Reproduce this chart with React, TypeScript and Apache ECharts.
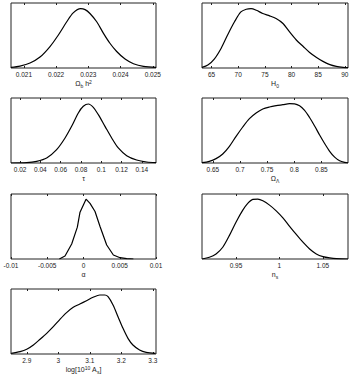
import { useEffect, useRef } from "react";
import * as echarts from "echarts";

// ---- data ----
const omegaBX = [0.0206, 0.02088, 0.02119, 0.0215, 0.02181, 0.02207, 0.02233, 0.02253, 0.02276, 0.0229, 0.02305, 0.02326, 0.02347, 0.02367, 0.02388, 0.02414, 0.0244, 0.02471, 0.0251];
const omegaBY = [0.01, 0.03, 0.076, 0.168, 0.33, 0.508, 0.711, 0.848, 0.914, 0.898, 0.838, 0.711, 0.533, 0.381, 0.254, 0.137, 0.066, 0.025, 0.01];
const omegaBTicks = [0.021, 0.022, 0.023, 0.024, 0.025];

const h0X = [63.2, 64.3, 65.5, 66.8, 68.0, 69.3, 70.5, 71.5, 72.4, 73.4, 74.6, 75.9, 77.1, 78.4, 79.6, 80.9, 82.2, 83.4, 84.7, 85.9, 87.2, 88.4, 89.7, 90.6];
const h0Y = [0.01, 0.046, 0.137, 0.305, 0.508, 0.711, 0.863, 0.904, 0.914, 0.888, 0.838, 0.802, 0.761, 0.685, 0.558, 0.431, 0.33, 0.239, 0.162, 0.102, 0.051, 0.025, 0.01, 0.005];
const h0Ticks = [65, 70, 75, 80, 85, 90];

const tauX = [0.011, 0.0265, 0.0363, 0.0462, 0.056, 0.0643, 0.0708, 0.0774, 0.0823, 0.0873, 0.0922, 0.0971, 0.1037, 0.1103, 0.1168, 0.1251, 0.1349, 0.1448, 0.154];
const tauY = [0.0, 0.005, 0.026, 0.077, 0.205, 0.385, 0.564, 0.77, 0.872, 0.908, 0.856, 0.744, 0.564, 0.385, 0.231, 0.113, 0.046, 0.015, 0.005];
const tauTicks = [0.02, 0.04, 0.06, 0.08, 0.1, 0.12, 0.14];

const omegaLX = [0.63, 0.6435, 0.6559, 0.6682, 0.6805, 0.6928, 0.7051, 0.7174, 0.7297, 0.742, 0.7543, 0.7667, 0.779, 0.7913, 0.8005, 0.8098, 0.819, 0.8282, 0.8375, 0.8467, 0.8559, 0.8652, 0.8744, 0.8836, 0.8929, 0.899];
const omegaLY = [0.005, 0.026, 0.067, 0.138, 0.256, 0.41, 0.554, 0.682, 0.769, 0.831, 0.862, 0.882, 0.897, 0.913, 0.91, 0.88, 0.81, 0.7, 0.57, 0.43, 0.3, 0.18, 0.09, 0.035, 0.01, 0.003];
const omegaLTicks = [0.65, 0.7, 0.75, 0.8, 0.85];

const alphaX = [-0.00333, -0.00255, -0.00163, -0.00085, -0.00048, 0.00035, 0.0009, 0.00159, 0.00228, 0.0032, 0.00412, 0.00504, 0.00596, 0.00688];
const alphaY = [0, 0.046, 0.23, 0.49, 0.72, 0.92, 0.856, 0.73, 0.5, 0.216, 0.062, 0.02, 0.005, 0];
const alphaTicks = [-0.01, -0.005, 0, 0.005, 0.01];

const nsX = [0.9108, 0.9193, 0.927, 0.9347, 0.9424, 0.9501, 0.9578, 0.9635, 0.9693, 0.9751, 0.9809, 0.9886, 0.9963, 1.004, 1.0117, 1.0194, 1.0271, 1.0348, 1.0425, 1.0502, 1.0579, 1.0656, 1.079];
const nsY = [0, 0.026, 0.078, 0.181, 0.363, 0.57, 0.751, 0.855, 0.917, 0.922, 0.896, 0.829, 0.741, 0.632, 0.503, 0.378, 0.259, 0.155, 0.078, 0.036, 0.016, 0.005, 0];
const nsTicks = [0.95, 1, 1.05];

const asX = [2.8505, 2.879, 2.8999, 2.921, 2.9421, 2.9632, 2.9842, 3.0053, 3.0263, 3.0474, 3.0684, 3.0895, 3.1105, 3.1316, 3.1474, 3.1579, 3.1737, 3.1895, 3.2053, 3.2211, 3.2368, 3.2579, 3.2789, 3.3084];
const asY = [0.01, 0.036, 0.072, 0.138, 0.226, 0.318, 0.42, 0.533, 0.636, 0.718, 0.769, 0.82, 0.872, 0.908, 0.908, 0.882, 0.754, 0.574, 0.395, 0.241, 0.138, 0.062, 0.026, 0.01];
const asTicks = [2.9, 3, 3.1, 3.2, 3.3];

const panels = [
  { x: omegaBX, y: omegaBY, min: 0.0206, max: 0.0251, ticks: omegaBTicks, name: "{i|Ω}{sub|b}{i| h}{sup|2}", smooth: 0.3 },
  { x: h0X, y: h0Y, min: 63.2, max: 90.6, ticks: h0Ticks, name: "{i|H}{sub|0}", smooth: 0.3 },
  { x: tauX, y: tauY, min: 0.011, max: 0.154, ticks: tauTicks, name: "{i|τ}", smooth: 0.3 },
  { x: omegaLX, y: omegaLY, min: 0.63, max: 0.899, ticks: omegaLTicks, name: "{i|Ω}{sub|Λ}", smooth: 0.3 },
  { x: alphaX, y: alphaY, min: -0.01, max: 0.01, ticks: alphaTicks, name: "{i|α}", smooth: false },
  { x: nsX, y: nsY, min: 0.9108, max: 1.079, ticks: nsTicks, name: "{i|n}{sub|s}", smooth: 0.3 },
  { x: asX, y: asY, min: 2.85, max: 3.31, ticks: asTicks, name: "{i|log[10}{sup|10}{i| A}{sub|s}{i|]}", smooth: 0.3 },
];

const rowTops = [3, 98, 194, 289];
const FONT = "Liberation Sans, Arial, sans-serif";
const AXIS_COLOR = "#222";
const TEXT_COLOR = "#222";

export default function App() {
  const ref = useRef<HTMLDivElement>(null);
  useEffect(() => {
    const chart = echarts.init(ref.current!, null, { renderer: "svg" });
    const grid: any[] = [];
    const xAxis: any[] = [];
    const yAxis: any[] = [];
    const series: any[] = [];
    const rich = {
      i: { fontSize: 7, lineHeight: 9, fontFamily: FONT, color: TEXT_COLOR },
      sub: { fontSize: 5, lineHeight: 5, verticalAlign: "bottom", fontFamily: FONT, color: TEXT_COLOR },
      sup: { fontSize: 5, lineHeight: 5, verticalAlign: "top", fontFamily: FONT, color: TEXT_COLOR },
    };
    panels.forEach((p, i) => {
      const col = i % 2;
      const row = Math.floor(i / 2);
      grid.push({
        left: col ? 202 : 11,
        top: rowTops[row],
        width: col ? 146 : 145,
        height: 65,
        show: true,
        borderColor: AXIS_COLOR,
        borderWidth: 1,
        backgroundColor: "transparent",
      });
      xAxis.push({
        type: "value",
        gridIndex: i,
        position: "bottom",
        min: p.min,
        max: p.max,
        axisLine: { show: false },
        splitLine: { show: false },
        axisTick: { show: true, inside: true, length: 2, customValues: p.ticks, lineStyle: { color: AXIS_COLOR } },
        axisLabel: {
          customValues: p.ticks,
          fontSize: 6.5,
          color: TEXT_COLOR,
          margin: 3,
          fontFamily: FONT,
          formatter: (v: number) => String(v),
        },
        name: p.name,
        nameLocation: "middle",
        nameGap: 11,
        nameTextStyle: { rich, fontFamily: FONT, fontSize: 7, color: TEXT_COLOR },
      });
      xAxis.push({
        type: "value",
        gridIndex: i,
        position: "top",
        min: p.min,
        max: p.max,
        axisLine: { show: false },
        splitLine: { show: false },
        axisLabel: { show: false },
        axisTick: { show: true, inside: true, length: 2, customValues: p.ticks, lineStyle: { color: AXIS_COLOR } },
      });
      yAxis.push({ type: "value", gridIndex: i, min: 0, max: 1, show: false });
      series.push({
        type: "line",
        xAxisIndex: 2 * i,
        yAxisIndex: i,
        data: p.x.map((v, k) => [v, p.y[k]]),
        showSymbol: false,
        smooth: p.smooth,
        silent: true,
        lineStyle: { color: "#000", width: 1.2 },
      });
    });
    chart.setOption({
      animation: false,
      backgroundColor: "#fff",
      grid,
      xAxis,
      yAxis,
      series,
    });
    return () => chart.dispose();
  }, []);
  return (
    <div
      ref={ref}
      style={{ position: "absolute", left: 0, top: 0, width: 353, height: 377, background: "#fff" }}
    />
  );
}
